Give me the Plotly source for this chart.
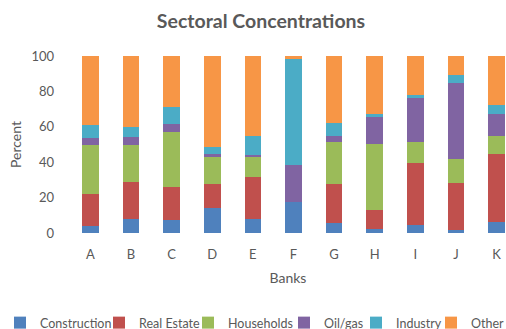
import plotly.graph_objects as go

# Bank sector exposures, percent of loan book
banks = ["A", "B", "C", "D", "E", "F", "G", "H", "I", "J", "K"]
construction = [4, 8, 7.5, 14, 8, 17.5, 5.5, 2, 4.5, 1.5, 6]
real_estate = [18, 21, 18.5, 13.5, 23.5, 0, 22, 11, 35, 26.5, 38.5]
households = [28, 21, 31, 16, 11.5, 0, 24, 37.5, 12, 14, 10.5]
oil_gas = [3.5, 4.5, 4.5, 1, 1, 21, 3.5, 15, 24.5, 43, 12.5]
industry = [7.5, 5.5, 9.5, 4, 11, 60, 7, 2, 2, 4, 5]
other = [39, 40, 29, 51.5, 45, 1.5, 38, 32.5, 22, 11, 27.5]

y_ticks = [0, 20, 40, 60, 80, 100]

series = [
    ("Construction", construction, "#4F81BD"),
    ("Real Estate", real_estate, "#C0504D"),
    ("Households", households, "#9BBB59"),
    ("Oil/gas", oil_gas, "#8064A2"),
    ("Industry", industry, "#4BACC6"),
    ("Other", other, "#F79646"),
]

# left edge of each legend label, in pixels across the page
legend_text_x = [40, 139, 228, 324, 396, 471]

FONT = "Lato, 'Open Sans', sans-serif"
GREY = "#595959"
W, H = 506, 329
L, R, T, B = 70, 0, 56, 96

fig = go.Figure()
legends = {}
for i, (name, vals, color) in enumerate(series):
    key = "legend" if i == 0 else f"legend{i + 1}"
    fig.add_trace(go.Bar(
        name=name, x=banks, y=vals,
        marker=dict(color=color, line=dict(width=0)),
        legend=key, showlegend=True,
    ))
    legends[key] = dict(
        orientation="h",
        xref="container", x=max(legend_text_x[i] - 40, 0) / W, xanchor="left",
        yref="container", y=1 - 323 / H, yanchor="middle",
        font=dict(size=12.5, color=GREY, family=FONT),
        itemwidth=30, bgcolor="rgba(0,0,0,0)", borderwidth=0,
    )

fig.update_layout(
    width=W, height=H, showlegend=True,
    barmode="stack", bargap=0.59,
    paper_bgcolor="white", plot_bgcolor="white",
    margin=dict(l=L, r=R, t=T, b=B, autoexpand=False),
    font=dict(family=FONT, color=GREY, size=13),
    title=dict(
        text="<b>Sectoral Concentrations</b>",
        x=261 / W, xref="container", xanchor="center",
        y=1 - 21 / H, yref="container", yanchor="middle",
        font=dict(size=19.5, color=GREY, family=FONT),
    ),
    xaxis=dict(
        range=[-0.5, 10.23],
        showgrid=False, showline=False, zeroline=False,
        ticks="", ticklabelstandoff=12,
        tickfont=dict(size=13, color=GREY),
        title=dict(text="Banks", font=dict(size=14, color=GREY), standoff=12),
    ),
    yaxis=dict(
        range=[0, 100], tickvals=y_ticks,
        showgrid=False, showline=False, zeroline=False,
        ticks="", ticklabelstandoff=15,
        tickfont=dict(size=13, color=GREY),
        title=dict(text="Percent", font=dict(size=14, color=GREY), standoff=6),
    ),
    **legends,
)

fig.write_html("out.html")
